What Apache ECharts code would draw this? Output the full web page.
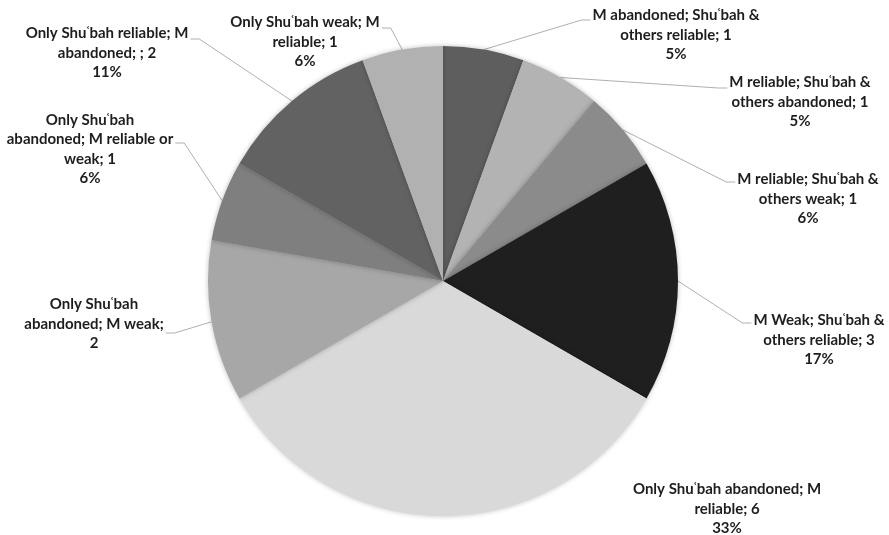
<!DOCTYPE html>
<html><head><meta charset="utf-8">
<script src="https://cdn.jsdelivr.net/npm/echarts@6/dist/echarts.min.js"></script>
<style>html,body{margin:0;padding:0;background:#fff}#c{width:889px;height:535px}</style>
</head><body><div id="c"></div>
<script>
// ---- data ----
const categories = [
  "M abandoned; Shuʿbah & others reliable",
  "M reliable; Shuʿbah & others abandoned",
  "M reliable; Shuʿbah & others weak",
  "M Weak; Shuʿbah & others reliable",
  "Only Shuʿbah abandoned; M reliable",
  "Only Shuʿbah abandoned; M weak",
  "Only Shuʿbah abandoned; M reliable or weak",
  "Only Shuʿbah reliable; M abandoned; ",
  "Only Shuʿbah weak; M reliable"
];
const values = [1, 1, 1, 3, 6, 2, 1, 2, 1];
const percentLabels = ["5%", "5%", "6%", "17%", "33%", "", "6%", "11%", "6%"];
// label text as wrapped in the original ({v} = value, {p} = percent)
const labelTemplates = [
  "M abandoned; Shuʿbah &\nothers reliable; {v}\n{p}",
  "M reliable; Shuʿbah &\nothers abandoned; {v}\n{p}",
  "M reliable; Shuʿbah &\nothers weak; {v}\n{p}",
  "M Weak; Shuʿbah &\nothers reliable; {v}\n{p}",
  "Only Shuʿbah abandoned; M\nreliable; {v}\n{p}",
  "Only Shuʿbah\nabandoned; M weak;\n{v}",
  "Only Shuʿbah\nabandoned; M reliable or\nweak; {v}\n{p}",
  "Only Shuʿbah reliable; M\nabandoned; ; {v}\n{p}",
  "Only Shuʿbah weak; M\nreliable; {v}\n{p}"
];

// ---- styles / layout ----
const sliceColors = ["#5e5e5e", "#b3b3b3", "#8b8b8b", "#1f1f1f", "#d9d9d9", "#a7a7a7", "#7f7f7f", "#626262", "#b1b1b1"];
// label centre x, centre y, leader attach offset (y from centre), show leader
const labelLayoutCfg = [
  [676, 35, -15, true],
  [800, 102, -14, true],
  [808, 199, -17, true],
  [819, 340, -17, true],
  [727, 509, 0, false],
  [94, 324, 9, true],
  [90, 149, -6, true],
  [107, 53, -14, true],
  [305, 42, -14, true]
];

const chart = echarts.init(document.getElementById('c'), null, {renderer: 'canvas'});
chart.setOption({
  backgroundColor: '#ffffff',
  animation: false,
  series: [{
    type: 'pie',
    center: [443, 281],
    radius: 235,
    startAngle: 90,
    clockwise: true,
    avoidLabelOverlap: false,
    silent: true,
    data: categories.map((n, i) => ({
      name: n,
      value: values[i],
      itemStyle: {color: sliceColors[i]},
      labelLine: {show: labelLayoutCfg[i][3]}
    })),
    itemStyle: {borderWidth: 0, shadowBlur: 5, shadowColor: 'rgba(0,0,0,0.25)'},
    label: {
      show: true,
      position: 'outside',
      formatter: p => labelTemplates[p.dataIndex].replace('{v}', p.value).replace('{p}', percentLabels[p.dataIndex]),
      fontFamily: 'Lato',
      fontWeight: 'bold',
      fontSize: 15,
      lineHeight: 19.5,
      color: '#1e1e1e',
      align: 'center'
    },
    labelLine: {show: true, length: 10, length2: 10, lineStyle: {color: '#b0b0b0', width: 1}},
    labelLayout: function (params) {
      const cfg = labelLayoutCfg[params.dataIndex];
      const cx = cfg[0], cy = cfg[1];
      const w = params.labelRect.width;
      const res = {x: cx, y: cy, align: 'center', verticalAlign: 'middle'};
      const lp = params.labelLinePoints;
      if (cfg[3] && lp && lp.length) {
        const anchor = lp[0];
        const ay = cy + cfg[2];
        const right = anchor[0] > 443;
        const ex = right ? cx - w / 2 - 2 : cx + w / 2 + 2;
        const mx = right ? ex - 9 : ex + 9;
        res.labelLinePoints = [[anchor[0], anchor[1]], [mx, ay], [ex, ay]];
      }
      return res;
    }
  }]
});
</script>
</body></html>
